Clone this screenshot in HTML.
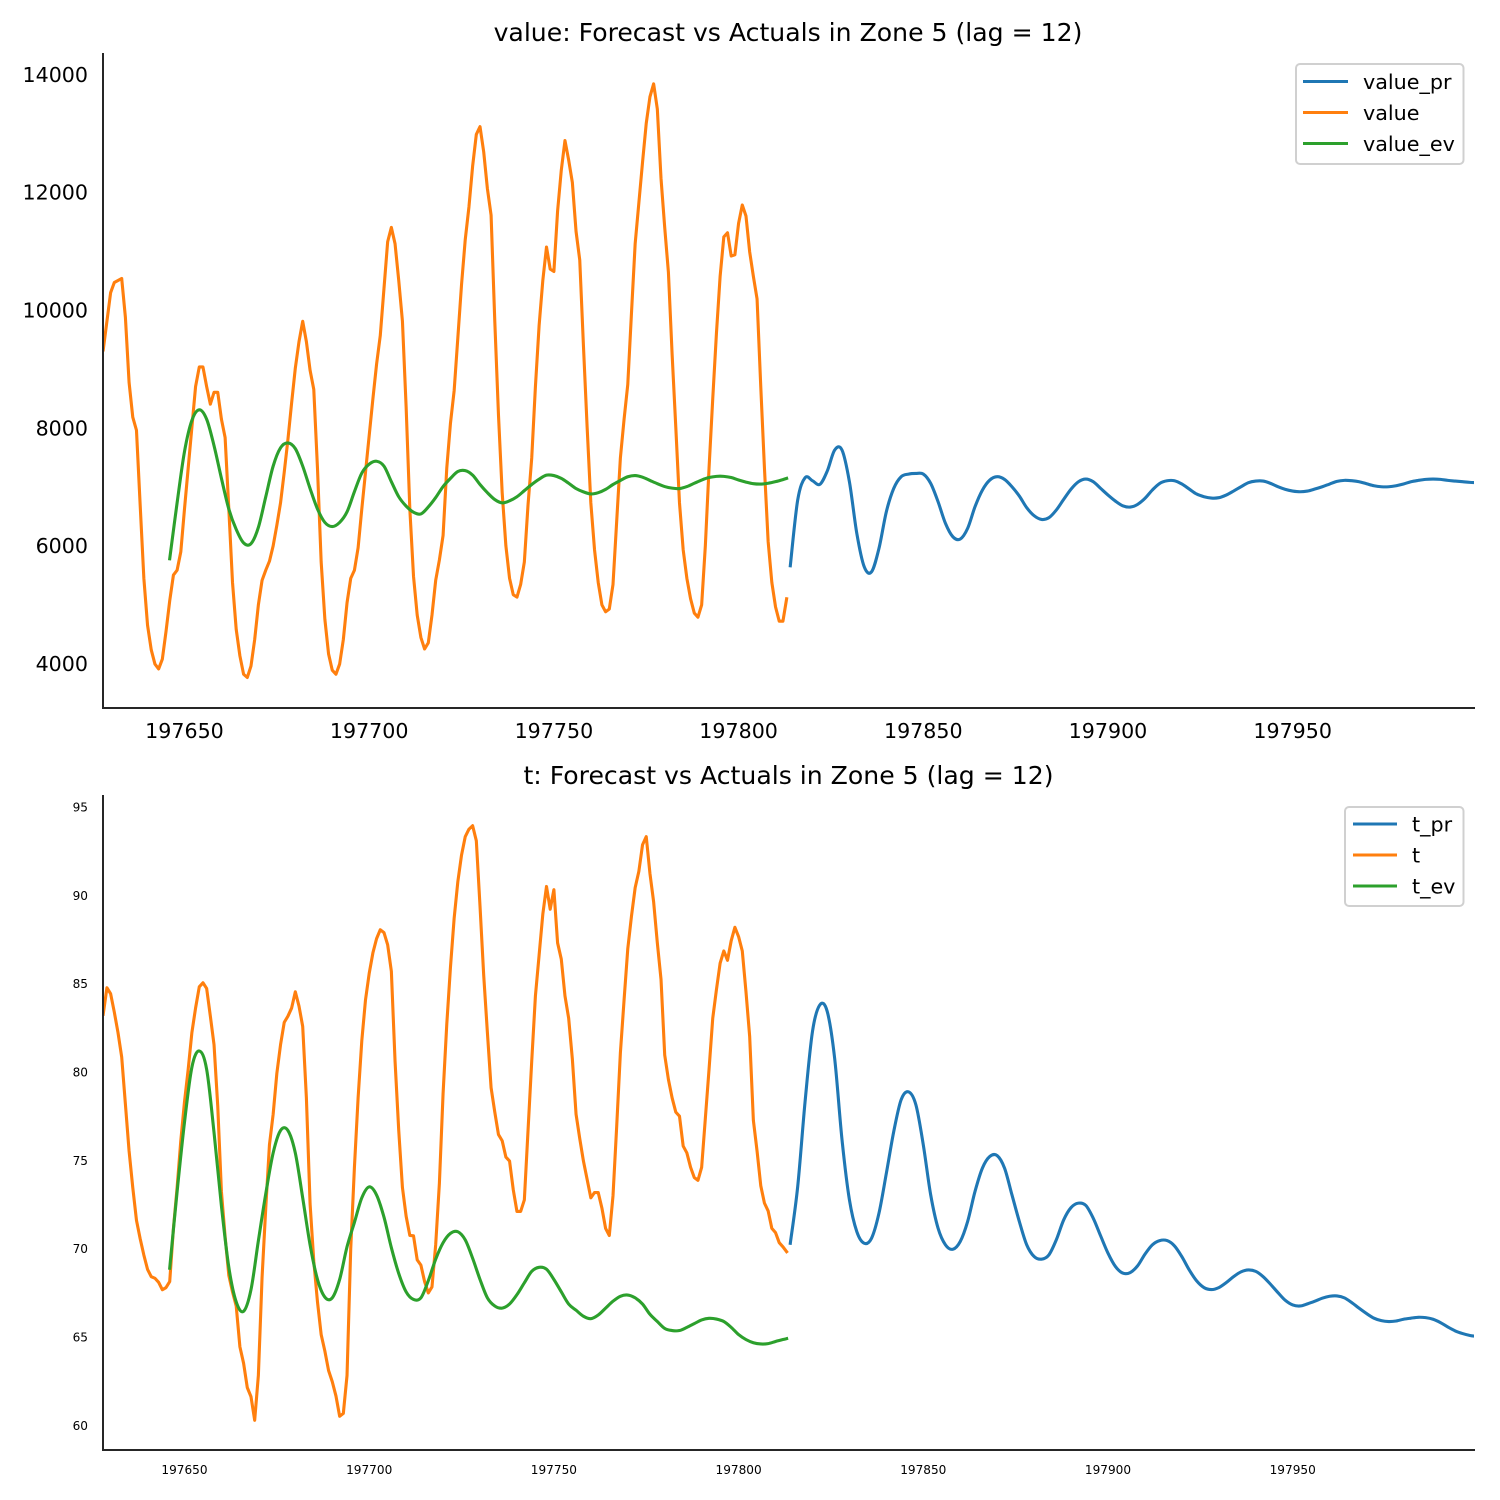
<!DOCTYPE html>
<html lang="en">
<head>
<meta charset="utf-8">
<title>Forecast vs Actuals in Zone 5</title>
<style>
html,body{margin:0;padding:0;background:#fff;}
svg{display:block;font-family:"DejaVu Sans","Liberation Sans",sans-serif;}
.title{font-size:25.13px;fill:#000;text-anchor:middle;}
.leg{font-size:20.7px;fill:#000;}
.lbox{fill:#fff;stroke:#d0d0d0;stroke-width:2;}
</style>
</head>
<body>
<svg id="chart" xmlns="http://www.w3.org/2000/svg" width="1500" height="1500" viewBox="0 0 1500 1500">
  <rect x="0" y="0" width="1500" height="1500" fill="#fff"/>
  <defs>
    <clipPath id="clip-top"><rect x="103" y="54" width="1371" height="654"/></clipPath>
    <clipPath id="clip-bottom"><rect x="103" y="796" width="1371" height="654"/></clipPath>
  </defs>
  <text class="title" x="788" y="41">value: Forecast vs Actuals in Zone 5 (lag = 12)</text>
  <text class="title" x="788.5" y="784">t: Forecast vs Actuals in Zone 5 (lag = 12)</text>
  <g id="top-marks" clip-path="url(#clip-top)"></g>
  <g id="bottom-marks" clip-path="url(#clip-bottom)"></g>
  <g id="axes"></g>

  <g>
    <rect class="lbox" x="1296" y="64" width="167.5" height="100" rx="4"/>
    <g>
      <line x1="1303" x2="1348" y1="81.5" y2="81.5" stroke="#1f77b4" stroke-width="3.1"/>
      <text class="leg" x="1363" y="89">value_pr</text>
    </g>
    <g>
      <line x1="1303" x2="1348" y1="112.5" y2="112.5" stroke="#ff7f0e" stroke-width="3.1"/>
      <text class="leg" x="1363" y="120">value</text>
    </g>
    <g>
      <line x1="1303" x2="1348" y1="143.5" y2="143.5" stroke="#2ca02c" stroke-width="3.1"/>
      <text class="leg" x="1363" y="151">value_ev</text>
    </g>
  </g>
  <g>
    <rect class="lbox" x="1345" y="807" width="118.5" height="99" rx="4"/>
    <g>
      <line x1="1353" x2="1397" y1="824" y2="824" stroke="#1f77b4" stroke-width="3.1"/>
      <text class="leg" x="1412" y="831.5">t_pr</text>
    </g>
    <g>
      <line x1="1353" x2="1397" y1="855" y2="855" stroke="#ff7f0e" stroke-width="3.1"/>
      <text class="leg" x="1412" y="862.5">t</text>
    </g>
    <g>
      <line x1="1353" x2="1397" y1="886" y2="886" stroke="#2ca02c" stroke-width="3.1"/>
      <text class="leg" x="1412" y="893.5">t_ev</text>
    </g>
  </g>
</svg>
<script>
const xTicks = [197650,197700,197750,197800,197850,197900,197950];
const valueTicks = [4000,6000,8000,10000,12000,14000];
const tTicks = [60,65,70,75,80,85,90,95];

const actualStart = 197628;
const evStart = 197646;
const evEnd = 197813;
const prStart = 197814;

const valueActual = [
9328,9813,10298,10471,10505,10540,9882,8774,8185,7963,
6696,5449,4652,4236,3994,3911,4077,4548,5068,5504,
5587,5899,6626,7319,8012,8704,9037,9037,8704,8406,
8607,8607,8150,7838,6626,5379,4583,4133,3821,3766,
3960,4410,4998,5414,5587,5740,6000,6350,6730,7250,
7804,8427,9016,9466,9813,9466,8981,8656,7319,5726,
4756,4167,3890,3821,3994,4410,5033,5449,5587,5968,
6626,7250,7873,8496,9085,9570,10367,11163,11406,11129,
10505,9813,8358,6626,5483,4825,4444,4250,4354,4825,
5414,5760,6176,7319,8081,8635,9536,10436,11198,11752,
12445,12985,13117,12687,12064,11614,9813,8220,6903,6003,
5449,5172,5130,5345,5726,6696,7492,8704,9743,10505,
11073,10699,10658,11683,12376,12881,12549,12168,11337,10852,
9397,8012,6730,5934,5379,4998,4881,4929,5345,6418,
7492,8150,8739,9951,11129,11822,12514,13172,13623,13844,
13415,12237,11406,10644,9259,8012,6730,5934,5449,5102,
4860,4790,4998,6003,7319,8497,9605,10575,11246,11316,
10921,10942,11475,11787,11600,10990,10575,10194,8704,7319,
6072,5379,4964,4721,4721,5102];

const valueEv = [
5781,6730,7600,8130,8310,8150,7700,7146,6626,6280,
6051,6037,6314,6834,7354,7665,7748,7651,7354,6973,
6626,6398,6328,6398,6578,6920,7236,7388,7437,7354,
7090,6834,6675,6571,6543,6661,6820,7007,7146,7263,
7277,7201,7042,6903,6786,6730,6765,6834,6938,7042,
7132,7201,7194,7146,7063,6973,6917,6882,6903,6959,
7042,7111,7173,7194,7166,7111,7056,7007,6980,6973,
7007,7063,7118,7160,7180,7180,7160,7118,7083,7056,
7049,7063,7090,7125,7146];

const valuePr = [
5663,6778,7157,7106,7044,7270,7626,7626,7089,6212,
5646,5561,5957,6580,6976,7174,7219,7230,7219,7061,
6749,6382,6155,6116,6297,6665,6947,7117,7174,7128,
7004,6846,6648,6512,6449,6478,6608,6789,6964,7089,
7134,7089,6976,6863,6761,6681,6659,6704,6806,6948,
7061,7106,7106,7050,6965,6880,6835,6812,6818,6863,
6931,7004,7072,7100,7100,7061,7004,6959,6931,6919,
6931,6965,7004,7050,7095,7112,7106,7089,7055,7021,
7004,7004,7021,7050,7089,7112,7129,7134,7129,7112,
7100,7089,7078,7072];

const tActual = [
83.27,84.77,84.43,83.39,82.23,80.85,78.19,75.53,73.46,71.61,
70.57,69.64,68.83,68.42,68.33,68.1,67.68,67.8,68.14,71.14,
73.46,76.11,78.31,80.15,82.23,83.62,84.82,85.05,84.73,83.16,
81.54,78.08,73.22,70.68,68.49,67.56,66.76,64.45,63.52,62.14,
61.63,60.29,62.83,68.37,72.3,75.88,77.61,79.92,81.54,82.81,
83.16,83.62,84.54,83.73,82.58,78.54,72.53,69.3,66.99,65.14,
64.21,63.11,62.48,61.67,60.52,60.68,62.83,69.99,74.61,78.54,
81.77,84.08,85.58,86.74,87.55,88.05,87.89,87.2,85.7,80.62,
76.69,73.46,71.84,70.75,70.73,69.37,69.07,68.14,67.5,67.84,
70.22,73.69,78.77,82.7,85.93,88.7,90.78,92.28,93.32,93.74,
93.94,93.09,89.39,85.47,82.23,79.11,77.73,76.46,76.11,75.19,
74.96,73.34,72.11,72.11,72.76,76.69,80.62,84.31,86.62,88.93,
90.5,89.21,90.32,87.31,86.39,84.31,83.04,80.73,77.61,76.23,
74.96,73.92,72.88,73.18,73.18,72.3,71.15,70.75,72.99,76.92,
81.08,84.08,86.97,88.82,90.43,91.36,92.86,93.32,91.24,89.63,
87.31,85.24,80.96,79.58,78.54,77.73,77.5,75.81,75.42,74.61,
74.03,73.87,74.61,77.38,80.15,83.04,84.66,86.16,86.85,86.32,
87.43,88.19,87.66,86.85,84.54,82,77.27,75.53,73.57,72.58,
72.14,71.15,70.91,70.34,70.11,69.83];

const tEv = [
68.9,73.22,77.15,80.27,81.19,80.15,76.57,72.42,68.95,66.99,
66.46,67.68,70.45,73.11,75.42,76.69,76.69,75.42,72.88,70.22,
68.26,67.26,67.22,68.26,70.11,71.49,72.88,73.5,73.04,71.79,
70.06,68.6,67.56,67.13,67.22,68.19,69.41,70.34,70.87,70.96,
70.5,69.46,68.26,67.22,66.76,66.64,66.87,67.4,68.07,68.72,
68.95,68.84,68.26,67.56,66.87,66.52,66.18,66.04,66.25,66.64,
67.03,67.31,67.38,67.22,66.87,66.29,65.88,65.49,65.37,65.37,
65.55,65.76,65.97,66.06,66.02,65.88,65.55,65.14,64.86,64.68,
64.61,64.63,64.75,64.86,64.91];

const tPr = [
70.31,73.52,78.33,82.29,83.8,83.42,80.78,76.16,72.77,70.97,
70.31,70.6,72.01,74.27,76.63,78.43,78.88,78.14,75.88,73.05,
71.16,70.22,69.97,70.41,71.54,73.24,74.56,75.22,75.27,74.56,
73.05,71.54,70.22,69.56,69.41,69.65,70.5,71.63,72.33,72.58,
72.45,71.73,70.73,69.75,69,68.62,68.65,69.03,69.69,70.22,
70.46,70.46,70.16,69.55,68.8,68.18,67.8,67.69,67.8,68.08,
68.42,68.69,68.8,68.72,68.42,67.99,67.52,67.08,66.82,66.76,
66.88,67.03,67.2,67.31,67.33,67.22,66.95,66.63,66.33,66.07,
65.93,65.88,65.91,66.01,66.07,66.12,66.1,66.01,65.82,65.57,
65.35,65.2,65.09,65.03];

const NS = 'http://www.w3.org/2000/svg';
const PLOT_L = 103, PLOT_R = 1474;
const X_MIN = 197627.94, X_MAX = 197999.08;

function xScale(v){ return PLOT_L + (v - X_MIN) / (X_MAX - X_MIN) * (PLOT_R - PLOT_L); }
function yScaleTop(v){ return 708 + (v - 3248) / (14350 - 3248) * (54 - 708); }
function yScaleBottom(v){ return 1450 + (v - 58.61) / (95.62 - 58.61) * (796 - 1450); }

function straightPath(pts){
  return pts.map(function(p,i){ return (i ? 'L' : 'M') + p[0].toFixed(2) + ' ' + p[1].toFixed(2); }).join('');
}
function smoothPath(pts){
  let d = 'M' + pts[0][0].toFixed(2) + ' ' + pts[0][1].toFixed(2);
  for (let i = 0; i < pts.length - 1; i++) {
    const p0 = pts[Math.max(0, i - 1)], p1 = pts[i], p2 = pts[i + 1], p3 = pts[Math.min(pts.length - 1, i + 2)];
    const c1x = p1[0] + (p2[0] - p0[0]) / 6, c1y = p1[1] + (p2[1] - p0[1]) / 6;
    const c2x = p2[0] - (p3[0] - p1[0]) / 6, c2y = p2[1] - (p3[1] - p1[1]) / 6;
    d += 'C' + c1x.toFixed(2) + ' ' + c1y.toFixed(2) + ' ' + c2x.toFixed(2) + ' ' + c2y.toFixed(2) + ' ' + p2[0].toFixed(2) + ' ' + p2[1].toFixed(2);
  }
  return d;
}
function actualX(i){ return actualStart + i; }
function evX(i){ return Math.min(evStart + 2 * i, evEnd); }
function prX(i){ return prStart + 2 * i; }

function drawSeries(parent, values, xFn, yFn, color, name, smooth){
  const pts = values.map(function(v,i){ return [xScale(xFn(i)), yFn(v)]; });
  const path = document.createElementNS(NS, 'path');
  path.setAttribute('d', smooth ? smoothPath(pts) : straightPath(pts));
  path.setAttribute('fill', 'none');
  path.setAttribute('stroke', color);
  path.setAttribute('stroke-width', '3.1');
  path.setAttribute('stroke-linejoin', 'round');
  path.setAttribute('stroke-linecap', 'square');
  
  
  parent.appendChild(path);
}

function addLabel(parent, txt, x, y, size, anchor, name){
  const t = document.createElementNS(NS, 'text');
  t.textContent = txt;
  t.setAttribute('x', x);
  t.setAttribute('y', y);
  t.setAttribute('font-size', size);
  t.setAttribute('text-anchor', anchor);
  t.setAttribute('fill', '#000');
  
  
  parent.appendChild(t);
}

function addSpine(parent, x1, y1, x2, y2, name){
  const l = document.createElementNS(NS, 'line');
  l.setAttribute('x1', x1);
  l.setAttribute('y1', y1);
  l.setAttribute('x2', x2);
  l.setAttribute('y2', y2);
  l.setAttribute('stroke', '#262626');
  l.setAttribute('stroke-width', '2');
  l.setAttribute('stroke-linecap', 'square');
  
  
  parent.appendChild(l);
}

const topG = document.getElementById('top-marks');
drawSeries(topG, valuePr, prX, yScaleTop, '#1f77b4', 'value-pr-line', true);
drawSeries(topG, valueActual, actualX, yScaleTop, '#ff7f0e', 'value-line', false);
drawSeries(topG, valueEv, evX, yScaleTop, '#2ca02c', 'value-ev-line', true);

const botG = document.getElementById('bottom-marks');
drawSeries(botG, tPr, prX, yScaleBottom, '#1f77b4', 't-pr-line', true);
drawSeries(botG, tActual, actualX, yScaleBottom, '#ff7f0e', 't-line', false);
drawSeries(botG, tEv, evX, yScaleBottom, '#2ca02c', 't-ev-line', true);

const axes = document.getElementById('axes');
addSpine(axes, 103, 54, 103, 708, 'value-y-axis-line');
addSpine(axes, 103, 708, 1474, 708, 'value-x-axis-line');
addSpine(axes, 103, 796, 103, 1450, 't-y-axis-line');
addSpine(axes, 103, 1450, 1474, 1450, 't-x-axis-line');

xTicks.forEach(function(v){
  addLabel(axes, String(v), xScale(v), 738, 20.6, 'middle', 'value-x-tick-label');
  addLabel(axes, String(v), xScale(v), 1474, 12.1, 'middle', 't-x-tick-label');
});
valueTicks.forEach(function(v){
  addLabel(axes, String(v), 88, yScaleTop(v) + 7.2, 20.6, 'end', 'value-y-tick-label');
});
tTicks.forEach(function(v){
  addLabel(axes, String(v), 88, yScaleBottom(v) + 4.5, 12.1, 'end', 't-y-tick-label');
});
</script>
</body>
</html>
